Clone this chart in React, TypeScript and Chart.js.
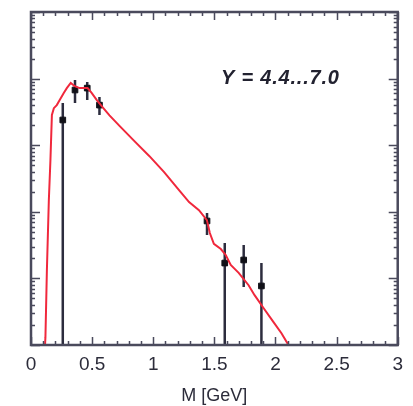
import React, { useEffect, useRef } from "react";
import { Chart, registerables } from "chart.js";

Chart.register(...registerables);

// Model curve (red): mass [GeV] and yield
const curveM = [0.106, 0.118, 0.13, 0.146, 0.159, 0.171, 0.187, 0.211, 0.236, 0.268, 0.293, 0.325, 0.358, 0.398, 0.463, 0.496, 0.537, 0.585, 0.642, 0.724, 0.846, 0.967, 1.089, 1.211, 1.293, 1.374, 1.439, 1.463, 1.496, 1.553, 1.593, 1.634, 1.699, 1.78, 1.829, 1.902, 1.984, 2.049, 2.106, 2.15];
const curveY = [0.5, 1.3, 13.4, 150, 600, 2840, 3600, 4000, 4800, 6100, 7200, 8600, 7700, 7200, 7200, 6100, 4800, 3740, 2800, 1950, 1150, 690, 395, 212, 140, 106, 75, 48, 33, 27.6, 22.5, 15.9, 12.1, 7.9, 5.6, 3.6, 2.2, 1.5, 1.0, 0.6];

// Data points with asymmetric errors (0 = extends to axis)
const dataM = [0.26, 0.36, 0.46, 0.56, 1.44, 1.585, 1.74, 1.885];
const dataY = [2390, 6740, 7200, 4000, 72.8, 17, 18.9, 7.7];
const dataHi = [4300, 9500, 8900, 5300, 96, 34, 31.7, 17];
const dataLo = [0, 4300, 4760, 2850, 45, 0, 7.4, 0];

const xTicksMajor = [0, 0.5, 1, 1.5, 2, 2.5, 3];
const yDecades = [1, 10, 100, 1000, 10000, 100000];
const annotation = "Y = 4.4...7.0";
const annotationAt = { m: 2.04, y: 10000 };
const xTitle = "M [GeV]";

const FRAME = "#4a4a5c";
const TEXT = "#2c2c3a";

export default function App() {
  const ref = useRef<HTMLCanvasElement | null>(null);

  useEffect(() => {
    const canvas = ref.current;
    if (!canvas) return;

    const framePlugin = {
      id: "framePlugin",
      beforeDatasetsDraw(chart: any) {
        const { ctx, chartArea, scales } = chart;
        const xs = scales.x, ys = scales.y;
        ctx.save();
        ctx.beginPath();
        ctx.rect(chartArea.left, chartArea.top, chartArea.right - chartArea.left, chartArea.bottom - chartArea.top);
        ctx.clip();
        ctx.strokeStyle = "#2c2c3e";
        ctx.lineWidth = 2.5;
        for (let i = 0; i < dataM.length; i++) {
          const px = xs.getPixelForValue(dataM[i]);
          const top = ys.getPixelForValue(dataHi[i]);
          const bot = dataLo[i] > 0 ? ys.getPixelForValue(dataLo[i]) : chartArea.bottom;
          ctx.beginPath();
          ctx.moveTo(px, top);
          ctx.lineTo(px, bot);
          ctx.stroke();
        }
        ctx.restore();
      },
      afterDatasetsDraw(chart: any) {
        const { ctx, chartArea, scales } = chart;
        const xs = scales.x, ys = scales.y;
        const { left, right, top, bottom } = chartArea;
        ctx.save();
        ctx.strokeStyle = FRAME;
        ctx.lineWidth = 1.5;
        for (let k = 0; k <= 30; k++) {
          const v = k / 10;
          const major = xTicksMajor.some((t) => Math.abs(t - v) < 1e-6);
          const len = major ? 8 : 4;
          const px = Math.round(xs.getPixelForValue(v)) + 0.5;
          ctx.beginPath();
          ctx.moveTo(px, bottom);
          ctx.lineTo(px, bottom - len);
          ctx.moveTo(px, top);
          ctx.lineTo(px, top + len);
          ctx.stroke();
        }
        for (let d = 0; d < yDecades.length; d++) {
          for (let m = 1; m <= 9; m++) {
            const v = yDecades[d] * m;
            if (v > yDecades[yDecades.length - 1]) break;
            const len = m === 1 ? 9 : 4;
            const py = Math.round(ys.getPixelForValue(v)) + 0.5;
            ctx.beginPath();
            ctx.moveTo(left, py);
            ctx.lineTo(left + len, py);
            ctx.moveTo(right, py);
            ctx.lineTo(right - len, py);
            ctx.stroke();
          }
        }
        ctx.lineWidth = 2.5;
        ctx.strokeRect(left, top, right - left, bottom - top);
        ctx.fillStyle = "#222230";
        ctx.font = 'italic bold 20px "Liberation Sans", Arial, sans-serif';
        try { (ctx as any).letterSpacing = "0.8px"; } catch (e) {}
        ctx.textAlign = "center";
        ctx.textBaseline = "middle";
        ctx.fillText(annotation, xs.getPixelForValue(annotationAt.m), ys.getPixelForValue(annotationAt.y));
        ctx.restore();
      },
    };

    const chart = new Chart(canvas, {
      type: "line",
      data: {
        datasets: [
          {
            label: "model",
            data: curveM.map((m, i) => ({ x: m, y: curveY[i] })),
            borderColor: "#f0283c",
            borderWidth: 2,
            pointRadius: 0,
            tension: 0,
            fill: false,
          },
          {
            label: "data",
            data: dataM.map((m, i) => ({ x: m, y: dataY[i] })),
            showLine: false,
            pointStyle: "rect",
            pointRadius: 4,
            backgroundColor: "#111118",
            borderColor: "#111118",
            borderWidth: 1,
          },
        ],
      },
      options: {
        responsive: false,
        animation: false,
        layout: { padding: { left: 31, right: 13, top: 12, bottom: 0 } },
        plugins: { legend: { display: false }, tooltip: { enabled: false } },
        scales: {
          x: {
            type: "linear",
            min: 0,
            max: 3,
            afterBuildTicks(scale: any) {
              scale.ticks = xTicksMajor.map((v) => ({ value: v }));
            },
            ticks: {
              padding: 10,
              color: TEXT,
              font: { family: '"Liberation Sans", Arial, sans-serif', size: 19, lineHeight: 1 },
              maxRotation: 0,
              autoSkip: false,
              callback: (v: any) => String(Number(v)),
            },
            grid: { display: false, drawTicks: false },
            border: { display: false },
            title: {
              display: true,
              text: xTitle,
              color: TEXT,
              font: { family: '"Liberation Sans", Arial, sans-serif', size: 18, lineHeight: 1 },
              padding: { top: 0, bottom: 1 },
            },
            afterFit(scale: any) {
              scale.height = 61;
            },
          },
          y: {
            type: "logarithmic",
            min: 1,
            max: 100000,
            display: false,
          },
        },
      },
      plugins: [framePlugin],
    });
    return () => chart.destroy();
  }, []);

  return (
    <div style={{ position: "absolute", left: 0, top: 0, width: 413, height: 406, background: "#fff" }}>
      <canvas ref={ref} width={413} height={406} style={{ display: "block" }} />
    </div>
  );
}
